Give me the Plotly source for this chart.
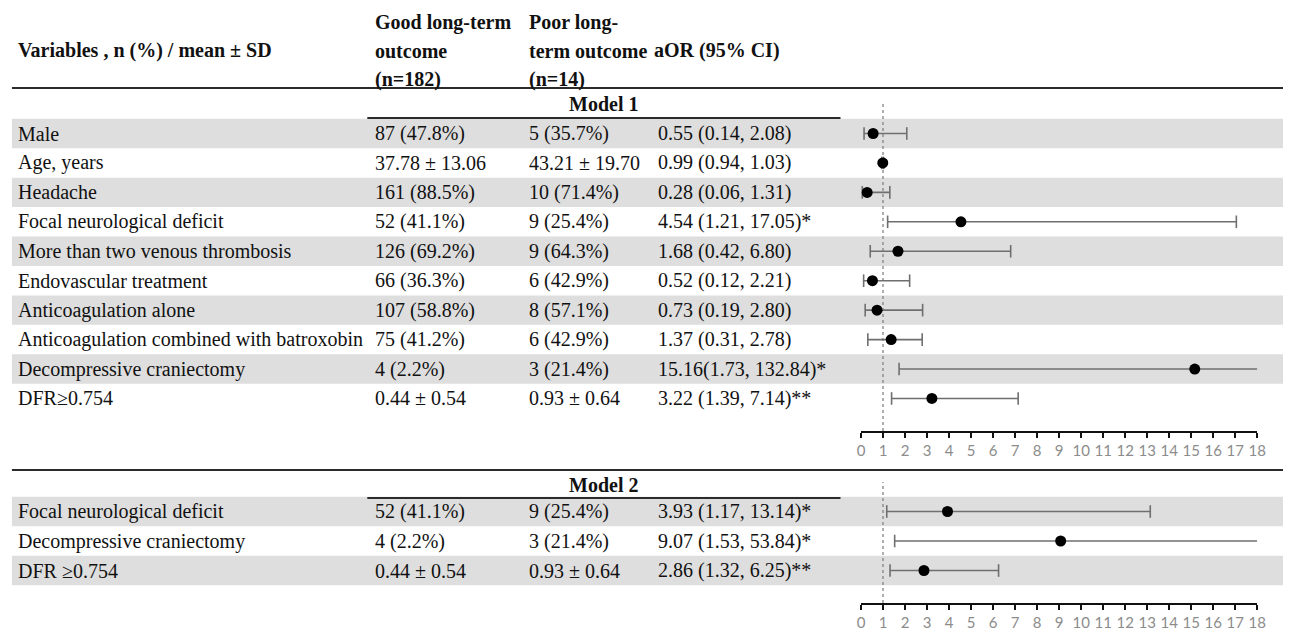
import re
import plotly.graph_objects as go

# ---- Model 1 table ----
m1_vars = [
    "Male",
    "Age, years",
    "Headache",
    "Focal neurological deficit",
    "More than two venous thrombosis",
    "Endovascular treatment",
    "Anticoagulation alone",
    "Anticoagulation combined with batroxobin",
    "Decompressive craniectomy",
    "DFR≥0.754",
]
m1_good = [
    "87 (47.8%)", "37.78 ± 13.06", "161 (88.5%)", "52 (41.1%)", "126 (69.2%)",
    "66 (36.3%)", "107 (58.8%)", "75 (41.2%)", "4 (2.2%)", "0.44 ± 0.54",
]
m1_poor = [
    "5 (35.7%)", "43.21 ± 19.70", "10 (71.4%)", "9 (25.4%)", "9 (64.3%)",
    "6 (42.9%)", "8 (57.1%)", "6 (42.9%)", "3 (21.4%)", "0.93 ± 0.64",
]
m1_aor = [
    "0.55 (0.14, 2.08)", "0.99 (0.94, 1.03)", "0.28 (0.06, 1.31)",
    "4.54 (1.21, 17.05)*", "1.68 (0.42, 6.80)", "0.52 (0.12, 2.21)",
    "0.73 (0.19, 2.80)", "1.37 (0.31, 2.78)", "15.16(1.73, 132.84)*",
    "3.22 (1.39, 7.14)**",
]

# ---- Model 2 table ----
m2_vars = ["Focal neurological deficit", "Decompressive craniectomy", "DFR ≥0.754"]
m2_good = ["52 (41.1%)", "4 (2.2%)", "0.44 ± 0.54"]
m2_poor = ["9 (25.4%)", "3 (21.4%)", "0.93 ± 0.64"]
m2_aor = ["3.93 (1.17, 13.14)*", "9.07 (1.53, 53.84)*", "2.86 (1.32, 6.25)**"]

header_col0 = "Variables , n (%) / mean ± SD"
header_col1 = ["Good long-term", "outcome", "(n=182)"]
header_col2 = ["Poor long-", "term outcome", "(n=14)"]
header_col3 = "aOR (95% CI)"

x_ticks = list(range(0, 19))
X_MAX = 18

W, H = 1292, 634
SERIF = "Liberation Serif"
TXT = "#111111"
BAND = "#dedede"
CI_COLOR = "#6f6f6f"


def parse_or(label):
    """Pull the odds ratio and its CI bounds out of an 'a (lo, hi)' label."""
    nums = [float(v) for v in re.findall(r"\d+\.\d+", label)]
    return nums[0], nums[1], nums[2]


def px_x(p):
    return p / W


def px_y(p):
    return 1 - p / H


fig = go.Figure()

panels = [
    # (rows, good, poor, aor, xaxis, yaxis, y-domain in px (top,bottom), row centre px, row step px)
    (m1_vars, m1_good, m1_poor, m1_aor, "x", "y", (104, 431), 133.5, 29.44),
    (m2_vars, m2_good, m2_poor, m2_aor, "x2", "y2", (482, 603), 511.5, 29.5),
]

shapes = []
annotations = []
col_px = [12, 373, 528, 659]

for rows, good, poor, aor, xa, ya, (top_px, bot_px), c0, step in panels:
    n = len(rows)
    y_top = (top_px - c0) / step
    y_bot = y_top + (bot_px - top_px) / step
    idx = list(range(n))
    vals = [parse_or(s) for s in aor]
    est = [v[0] for v in vals]

    # striped row backgrounds across the whole width
    for i in idx:
        if i % 2 == 0:
            shapes.append(dict(type="rect", xref="paper", yref=ya,
                               x0=px_x(8), x1=1.0, y0=i - 0.5, y1=i + 0.5,
                               fillcolor=BAND, line=dict(width=0), layer="below"))

    # reference line at OR = 1
    shapes.append(dict(type="line", xref=xa, yref=f"{ya} domain",
                       x0=1, x1=1, y0=0, y1=1,
                       line=dict(color="#7a7a7a", width=1.2, dash="dot"), layer="below"))

    # confidence interval lines, clipped at the axis end
    ci_x, ci_y = [], []
    cap_x, cap_y = [], []
    for i, (a, lo, hi) in enumerate(vals):
        ci_x += [lo, min(hi, X_MAX), None]
        ci_y += [i, i, None]
        cap_x.append(lo)
        cap_y.append(i)
        if hi <= X_MAX:
            cap_x.append(hi)
            cap_y.append(i)
    fig.add_trace(go.Scatter(x=ci_x, y=ci_y, mode="lines", xaxis=xa, yaxis=ya,
                             line=dict(color=CI_COLOR, width=1.6),
                             hoverinfo="skip", showlegend=False, cliponaxis=False))
    fig.add_trace(go.Scatter(x=cap_x, y=cap_y, mode="markers", xaxis=xa, yaxis=ya,
                             marker=dict(symbol="line-ns", size=9,
                                         line=dict(color=CI_COLOR, width=1.6)),
                             hoverinfo="skip", showlegend=False, cliponaxis=False))
    fig.add_trace(go.Scatter(x=est, y=idx, mode="markers", xaxis=xa, yaxis=ya,
                             marker=dict(symbol="circle", size=11, color="black"),
                             showlegend=False, cliponaxis=False))

    # table text
    for i in idx:
        for cx, txt in zip(col_px, [rows[i], good[i], poor[i], aor[i]]):
            annotations.append(dict(xref="paper", yref=ya, x=px_x(cx), y=i,
                                    xanchor="left", yanchor="middle", text=txt,
                                    showarrow=False,
                                    font=dict(family=SERIF, size=20, color=TXT)))

    axis_common = dict(range=[0, X_MAX], domain=[px_x(865.7), px_x(1266)],
                       tickmode="array", tickvals=x_ticks,
                       showline=True, linecolor="#111111", linewidth=1.6,
                       ticks="outside", ticklen=5, tickwidth=1.6, tickcolor="#111111",
                       tickfont=dict(family="Lato", size=15, color="#8c8c8c"),
                       showgrid=False, zeroline=False, fixedrange=True)
    yaxis_common = dict(range=[y_bot, y_top], domain=[px_y(bot_px), px_y(top_px)],
                        showticklabels=False, showgrid=False, zeroline=False,
                        showline=False, ticks="", fixedrange=True)
    if xa == "x":
        fig.update_layout(xaxis=dict(anchor="y", **axis_common),
                          yaxis=dict(anchor="x", **yaxis_common))
    else:
        fig.update_layout(xaxis2=dict(anchor="y2", **axis_common),
                          yaxis2=dict(anchor="x2", **yaxis_common))

# header text
hdr_font = dict(family=SERIF, size=20, color=TXT)
header_lines_px = [23, 51, 79]
annotations.append(dict(xref="paper", yref="paper", x=px_x(12), y=px_y(51),
                        xanchor="left", yanchor="middle", showarrow=False,
                        text=f"<b>{header_col0}</b>", font=hdr_font))
for ypx, t1, t2 in zip(header_lines_px, header_col1, header_col2):
    annotations.append(dict(xref="paper", yref="paper", x=px_x(373), y=px_y(ypx),
                            xanchor="left", yanchor="middle", showarrow=False,
                            text=f"<b>{t1}</b>", font=hdr_font))
    annotations.append(dict(xref="paper", yref="paper", x=px_x(528), y=px_y(ypx),
                            xanchor="left", yanchor="middle", showarrow=False,
                            text=f"<b>{t2}</b>", font=hdr_font))
annotations.append(dict(xref="paper", yref="paper", x=px_x(655), y=px_y(51),
                        xanchor="left", yanchor="middle", showarrow=False,
                        text=f"<b>{header_col3}</b>", font=hdr_font))

# model titles
for label, ypx in [("Model 1", 104), ("Model 2", 485)]:
    annotations.append(dict(xref="paper", yref="paper", x=px_x(606), y=px_y(ypx),
                            xanchor="center", yanchor="middle", showarrow=False,
                            text=f"<b>{label}</b>", font=hdr_font))

# table rules
RULE = dict(color="#2b2b2b", width=2.2)
for ypx, x0, x1 in [(88, 8, 1292), (118, 367, 845), (470, 8, 1292), (498, 367, 845)]:
    shapes.append(dict(type="line", xref="paper", yref="paper",
                       x0=px_x(x0), x1=px_x(x1), y0=px_y(ypx), y1=px_y(ypx),
                       line=RULE, layer="above"))

fig.update_layout(
    width=W, height=H,
    margin=dict(l=0, r=0, t=0, b=0),
    paper_bgcolor="white",
    plot_bgcolor="rgba(0,0,0,0)",
    shapes=shapes,
    annotations=annotations,
    showlegend=False,
)

fig.write_html("out.html")
